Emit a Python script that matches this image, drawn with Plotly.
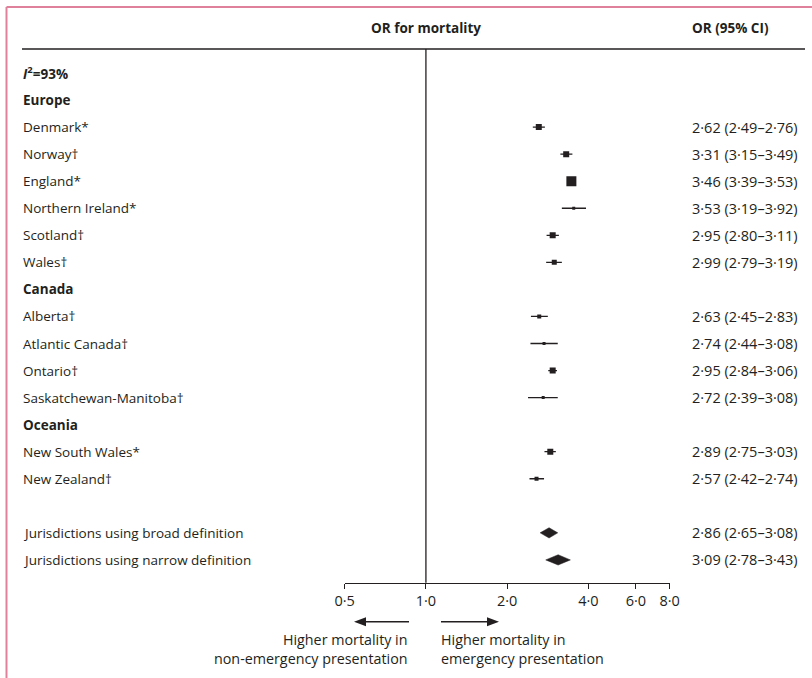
import plotly.graph_objects as go

# ---------------- data ----------------
region_names = ["Europe", "Canada", "Oceania"]
study_labels = ["Denmark*", "Norway†", "England*", "Northern Ireland*", "Scotland†", "Wales†",
                "Alberta†", "Atlantic Canada†", "Ontario†", "Saskatchewan-Manitoba†",
                "New South Wales*", "New Zealand†"]
study_region = ["Europe"] * 6 + ["Canada"] * 4 + ["Oceania"] * 2
or_est = [2.62, 3.31, 3.46, 3.53, 2.95, 2.99, 2.63, 2.74, 2.95, 2.72, 2.89, 2.57]
ci_low = [2.49, 3.15, 3.39, 3.19, 2.80, 2.79, 2.45, 2.44, 2.84, 2.39, 2.75, 2.42]
ci_high = [2.76, 3.49, 3.53, 3.92, 3.11, 3.19, 2.83, 3.08, 3.06, 3.08, 3.03, 2.74]

pooled_labels = ["Jurisdictions using broad definition", "Jurisdictions using narrow definition"]
pooled_est = [2.86, 3.09]
pooled_low = [2.65, 2.78]
pooled_high = [3.08, 3.43]

heterogeneity = "<i>I</i><sup>2</sup>=93%"
tick_values = [0.5, 1.0, 2.0, 4.0, 6.0, 8.0]
tick_labels = ["0·5", "1·0", "2·0", "4·0", "6·0", "8·0"]

# ---------------- styling ----------------
box_size = [6, 6, 10, 3, 6, 5, 4, 3, 6, 3, 6, 4]
W, H = 812, 678
FONT = "Open Sans"
FS = 13.5
FS_NUM = 14.5
FS_BOT = 14.3
INK = "#231f20"
PINK = "#e0819c"
ROW0_PX, ROW_STEP = 73.0, 27.05
AXIS_PX = 582.7
X_LEFT_PX, X_RIGHT_PX = 344.7, 669.6


def py(px):
    return 1 - px / H


def fmt(v):
    return f"{v:.2f}".replace(".", "·")


# build row layout
rows = []  # (label, kind)
rows.append((heterogeneity, "head"))
for r in region_names:
    rows.append((r, "head"))
    for i, lab in enumerate(study_labels):
        if study_region[i] == r:
            rows.append((lab, ("study", i)))
rows.append(("", "blank"))
for j, lab in enumerate(pooled_labels):
    rows.append((lab, ("pooled", j)))

study_y = [None] * len(study_labels)
pooled_y = [None] * len(pooled_labels)
for k, (lab, kind) in enumerate(rows):
    if isinstance(kind, tuple):
        if kind[0] == "study":
            study_y[kind[1]] = k
        else:
            pooled_y[kind[1]] = k

fig = go.Figure()

# CI lines
cx, cy = [], []
for i in range(len(study_labels)):
    cx += [ci_low[i], ci_high[i], None]
    cy += [study_y[i], study_y[i], None]
fig.add_trace(go.Scatter(x=cx, y=cy, mode="lines", line=dict(color=INK, width=1.3),
                         hoverinfo="skip", showlegend=False))
# squares
fig.add_trace(go.Scatter(x=or_est, y=study_y, mode="markers",
                         marker=dict(symbol="square", size=box_size, color=INK, opacity=1,
                                     line=dict(width=0, color=INK)),
                         showlegend=False))
# diamonds
hh = 0.19
for j in range(len(pooled_labels)):
    yk = pooled_y[j]
    fig.add_trace(go.Scatter(
        x=[pooled_low[j], pooled_est[j], pooled_high[j], pooled_est[j], pooled_low[j]],
        y=[yk, yk - hh, yk, yk + hh, yk],
        mode="lines", fill="toself", fillcolor=INK, line=dict(color=INK, width=0.5),
        showlegend=False, hoverinfo="skip"))

annotations = []
tf = dict(size=FS, color=INK, family=FONT)
tn = dict(size=FS_NUM, color=INK, family=FONT)
tb = dict(size=FS_BOT, color=INK, family=FONT)
# left labels
for k, (lab, kind) in enumerate(rows):
    if not lab:
        continue
    txt = f"<b>{lab}</b>" if kind == "head" else lab
    annotations.append(dict(x=21 / W, xref="paper", y=k, yref="y", text=txt, showarrow=False,
                            xanchor="left", yanchor="middle", font=tf))
# right column
for i in range(len(study_labels)):
    annotations.append(dict(x=690 / W, xref="paper", y=study_y[i], yref="y",
                            text=f"{fmt(or_est[i])} ({fmt(ci_low[i])}–{fmt(ci_high[i])})",
                            showarrow=False, xanchor="left", yanchor="middle", font=tn))
for j in range(len(pooled_labels)):
    annotations.append(dict(x=690 / W, xref="paper", y=pooled_y[j], yref="y",
                            text=f"{fmt(pooled_est[j])} ({fmt(pooled_low[j])}–{fmt(pooled_high[j])})",
                            showarrow=False, xanchor="left", yanchor="middle", font=tn))
# headers (log axis annotations use log10 of the value)
annotations.append(dict(x=0, xref="x", y=py(28), yref="paper", text="<b>OR for mortality</b>",
                        showarrow=False, xanchor="center", yanchor="middle", font=tf))
annotations.append(dict(x=690 / W, xref="paper", y=py(28), yref="paper", text="<b>OR (95% CI)</b>",
                        showarrow=False, xanchor="left", yanchor="middle", font=tf))
# direction labels
annotations.append(dict(x=410 / W, xref="paper", y=py(649), yref="paper",
                        text="Higher mortality in<br>non-emergency presentation",
                        showarrow=False, xanchor="right", yanchor="middle", align="right", font=tb))
annotations.append(dict(x=439 / W, xref="paper", y=py(649), yref="paper",
                        text="Higher mortality in<br>emergency presentation",
                        showarrow=False, xanchor="left", yanchor="middle", align="left", font=tb))

shapes = []
# pink frame
shapes.append(dict(type="line", xref="paper", yref="paper", x0=6.5 / W, x1=1, y0=py(7), y1=py(7),
                   line=dict(color=PINK, width=2)))
shapes.append(dict(type="line", xref="paper", yref="paper", x0=6.5 / W, x1=6.5 / W, y0=py(7), y1=0,
                   line=dict(color=PINK, width=2)))
# header rule
shapes.append(dict(type="line", xref="paper", yref="paper", x0=22 / W, x1=805 / W, y0=py(49), y1=py(49),
                   line=dict(color=INK, width=1.3)))
# null line
shapes.append(dict(type="line", xref="x", yref="paper", x0=1, x1=1, y0=py(49), y1=py(AXIS_PX),
                   line=dict(color=INK, width=1.3)))
# arrows
ay = 621.7
shapes.append(dict(type="line", xref="paper", yref="paper", x0=409 / W, x1=362 / W, y0=py(ay), y1=py(ay),
                   line=dict(color=INK, width=1.4)))
shapes.append(dict(type="path", xref="paper", yref="paper",
                   path=f"M {354 / W} {py(ay)} L {366 / W} {py(ay - 4.5)} L {366 / W} {py(ay + 4.5)} Z",
                   fillcolor=INK, line=dict(width=0)))
shapes.append(dict(type="line", xref="paper", yref="paper", x0=441 / W, x1=489 / W, y0=py(ay), y1=py(ay),
                   line=dict(color=INK, width=1.4)))
shapes.append(dict(type="path", xref="paper", yref="paper",
                   path=f"M {499 / W} {py(ay)} L {487 / W} {py(ay - 4.5)} L {487 / W} {py(ay + 4.5)} Z",
                   fillcolor=INK, line=dict(width=0)))

y_top = -ROW0_PX / ROW_STEP
y_bot = (AXIS_PX - ROW0_PX) / ROW_STEP

fig.update_layout(
    width=W, height=H, margin=dict(l=0, r=0, t=0, b=0),
    paper_bgcolor="white", plot_bgcolor="rgba(0,0,0,0)",
    showlegend=False,
    xaxis=dict(type="log", range=[-0.30103, 0.90309], domain=[X_LEFT_PX / W, X_RIGHT_PX / W],
               tickvals=tick_values, ticktext=tick_labels, ticks="outside", ticklen=5,
               tickwidth=1.3, tickcolor=INK, showline=True, linecolor=INK, linewidth=1.3,
               showgrid=False, zeroline=False, automargin=False,
               tickfont=dict(size=FS_NUM, color=INK, family=FONT)),
    yaxis=dict(range=[y_bot, y_top], domain=[1 - AXIS_PX / H, 1], visible=False,
               showgrid=False, zeroline=False, automargin=False),
    annotations=annotations, shapes=shapes,
    font=dict(family=FONT, color=INK),
)

fig.write_html("out.html", config={"displayModeBar": False},
               post_script="document.body.style.margin='0';document.body.style.overflow='hidden';")
